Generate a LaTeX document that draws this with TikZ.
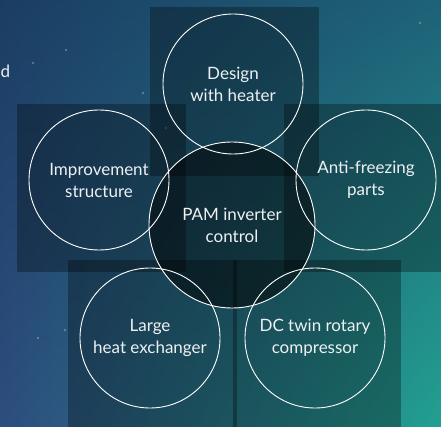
\documentclass[tikz,border=0pt]{standalone}
\usepackage{fontspec}
\setmainfont{Lato}
\usetikzlibrary{shadings}
\definecolor{bgUL}{HTML}{1B3D63}
\definecolor{bgUR}{HTML}{1E6278}
\definecolor{bgLL}{HTML}{2D4D7E}
\definecolor{bgLR}{HTML}{22A090}
\definecolor{txt}{HTML}{EEF1F3}
\tikzset{
  panel/.style={fill=black, fill opacity=0.3, draw=none},
  bubble/.style={circle, draw=white, line width=0.9pt, minimum size=140pt, inner sep=0pt,
    align=center, text=txt, font=\fontsize{17}{22}\selectfont},
  hub/.style={bubble, minimum size=166pt, fill=black, fill opacity=0.52, text opacity=1},
  speck/.style={fill=white, fill opacity=0.28, draw=none}
}
\begin{document}
\begin{tikzpicture}[x=1pt,y=-1pt]
\useasboundingbox (0,0) rectangle (441,427);
\shade[upper left=bgUL, upper right=bgUR, lower left=bgLL, lower right=bgLR] (0,0) rectangle (441,427);
% specks
\foreach \p in {(66,50),(33,63),(143,93),(38,338),(65,330),(420,23),(166,128)}
  \fill[speck] \p circle (1.3);
% fragment of text at the left edge
\node[anchor=west, text=txt, font=\fontsize{17}{22}\selectfont, inner sep=0pt] (cut) at (0.5,71) {d};
% panels
\fill[panel] (150,7) rectangle (319,176);
\fill[panel] (17,104) rectangle (186,272);
\fill[panel] (284,104) rectangle (441,272);
\fill[panel] (68,260) rectangle (237,427);
\fill[panel] (233,260) rectangle (401,427);
% circles
\node[hub] (pam) at (232,225) {PAM inverter\\control};
\node[bubble] (heater) at (233,84) {Design\\with heater};
\node[bubble] (improve) at (99,180) {Improvement\\structure};
\node[bubble] (anti) at (366,180) {Anti-freezing\\parts};
\node[bubble] (large) at (150,338) {Large\\heat exchanger};
\node[bubble] (dc) at (315,338) {DC twin rotary\\compressor};
\end{tikzpicture}
\end{document}
